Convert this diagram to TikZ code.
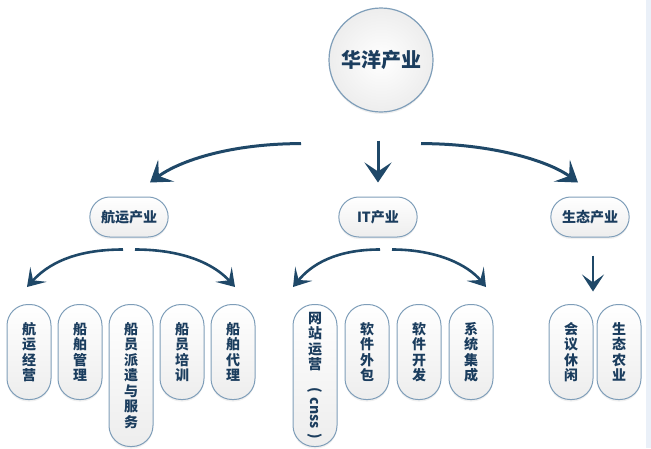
\documentclass[tikz,border=0pt]{standalone}
\usepackage{graphicx}
\usepackage{fontspec}
\newfontfamily\cjk{Noto Sans CJK SC}
\usetikzlibrary{positioning,arrows.meta,calc,shapes.misc,shadows}
\definecolor{navy}{HTML}{1B3D5E}
\definecolor{arrowblue}{HTML}{1F4868}
\definecolor{rim}{HTML}{7F9EB9}
\definecolor{band}{HTML}{EAF0F8}

\begin{document}
\begin{tikzpicture}[x=1pt, y=-1pt,
  hub/.style={circle, draw=rim, line width=1.2pt, minimum size=104pt, inner color=white, outer color=gray!14,
    drop shadow={opacity=.12, shadow xshift=0pt, shadow yshift=-2pt},
    text=navy, font=\cjk\bfseries\fontsize{20}{24}\selectfont},
  sector/.style={rounded rectangle, draw=rim, line width=1pt, minimum width=85pt, minimum height=40pt,
    top color=white, bottom color=gray!14, drop shadow={opacity=.12, shadow xshift=0pt, shadow yshift=-2pt},
    text=navy, font=\cjk\bfseries\fontsize{14}{17}\selectfont},
  leaf/.style={rectangle, rounded corners=21pt, draw=rim, line width=1pt, minimum width=44pt, minimum height=95pt,
    text width=16pt, inner sep=0pt, align=center, top color=white, bottom color=gray!14,
    drop shadow={opacity=.12, shadow xshift=0pt, shadow yshift=-2pt},
    text=navy, font=\cjk\bfseries\fontsize{14}{15.5}\selectfont},
  tall/.style={minimum height=142pt},
  arr/.style={-{Stealth[length=20pt, width=27pt, inset=9pt]}, line width=3pt, draw=arrowblue},
  subarr/.style={-{Stealth[length=17pt, width=22pt, inset=8pt]}, line width=2.6pt, draw=arrowblue}]
\useasboundingbox (0,0) rectangle (651,448);
\fill[band] (646,0) rectangle (651,448);

\node[hub] (root) at (381,60) {华洋产业};
\node[sector] (ship) at (129,217) {航运产业};
\node[sector] (it) at (378,217) {IT产业};
\node[sector] (eco) at (590,217) {生态产业};

% shipping
\node[leaf, anchor=north] (ship1) at (29,304) {航\\运\\经\\营};
\node[leaf, right=6pt of ship1.north east, anchor=north west] (ship2) {船\\舶\\管\\理};
\node[leaf, tall, right=6pt of ship2.north east, anchor=north west] (ship3) {船\\员\\派\\遣\\与\\服\\务};
\node[leaf, right=6pt of ship3.north east, anchor=north west] (ship4) {船\\员\\培\\训};
\node[leaf, right=6pt of ship4.north east, anchor=north west] (ship5) {船\\舶\\代\\理};

% IT
\node[leaf, tall, anchor=north] (it1) at (315,304) {网\\站\\运\\营\\[2pt]\rotatebox{-90}{(\,\,cnss\,\,)}};
\node[leaf, right=7pt of it1.north east, anchor=north west] (it2) {软\\件\\外\\包};
\node[leaf, right=7pt of it2.north east, anchor=north west] (it3) {软\\件\\开\\发};
\node[leaf, right=7pt of it3.north east, anchor=north west] (it4) {系\\统\\集\\成};

% eco
\node[leaf, anchor=north] (eco1) at (571,304) {会\\议\\休\\闲};
\node[leaf, right=3pt of eco1.north east, anchor=north west] (eco2) {生\\态\\农\\业};

\draw[arr] ($(root.south)+(-80,31)$) .. controls +(-70,0) and +(30,-22) .. ($(ship.north)+(21,-14)$);
\draw[arr] ($(root.south)+(-3,28)$) -- ($(it.north)+(0,-14)$);
\draw[arr] ($(root.south)+(40,31)$) .. controls +(70,0) and +(-30,-22) .. ($(eco.north)+(-12,-14)$);

\draw[subarr] ($(ship.south)+(-6,12)$) .. controls +(-50,0) and +(20,-22) .. ($(ship1.north)+(-2,-17)$);
\draw[subarr] ($(ship.south)+(6,12)$) .. controls +(50,0) and +(-20,-22) .. ($(ship5.north)+(2,-17)$);
\draw[subarr] ($(it.south)+(2,12)$) .. controls +(-45,0) and +(18,-22) .. ($(it1.north)+(-22,-17)$);
\draw[subarr] ($(it.south)+(14,12)$) .. controls +(45,0) and +(-18,-22) .. ($(it4.north)+(15,-17)$);
\draw[subarr] ($(eco.south)+(3,18)$) -- ($(eco.south)+(3,54)$);
\end{tikzpicture}
\end{document}
